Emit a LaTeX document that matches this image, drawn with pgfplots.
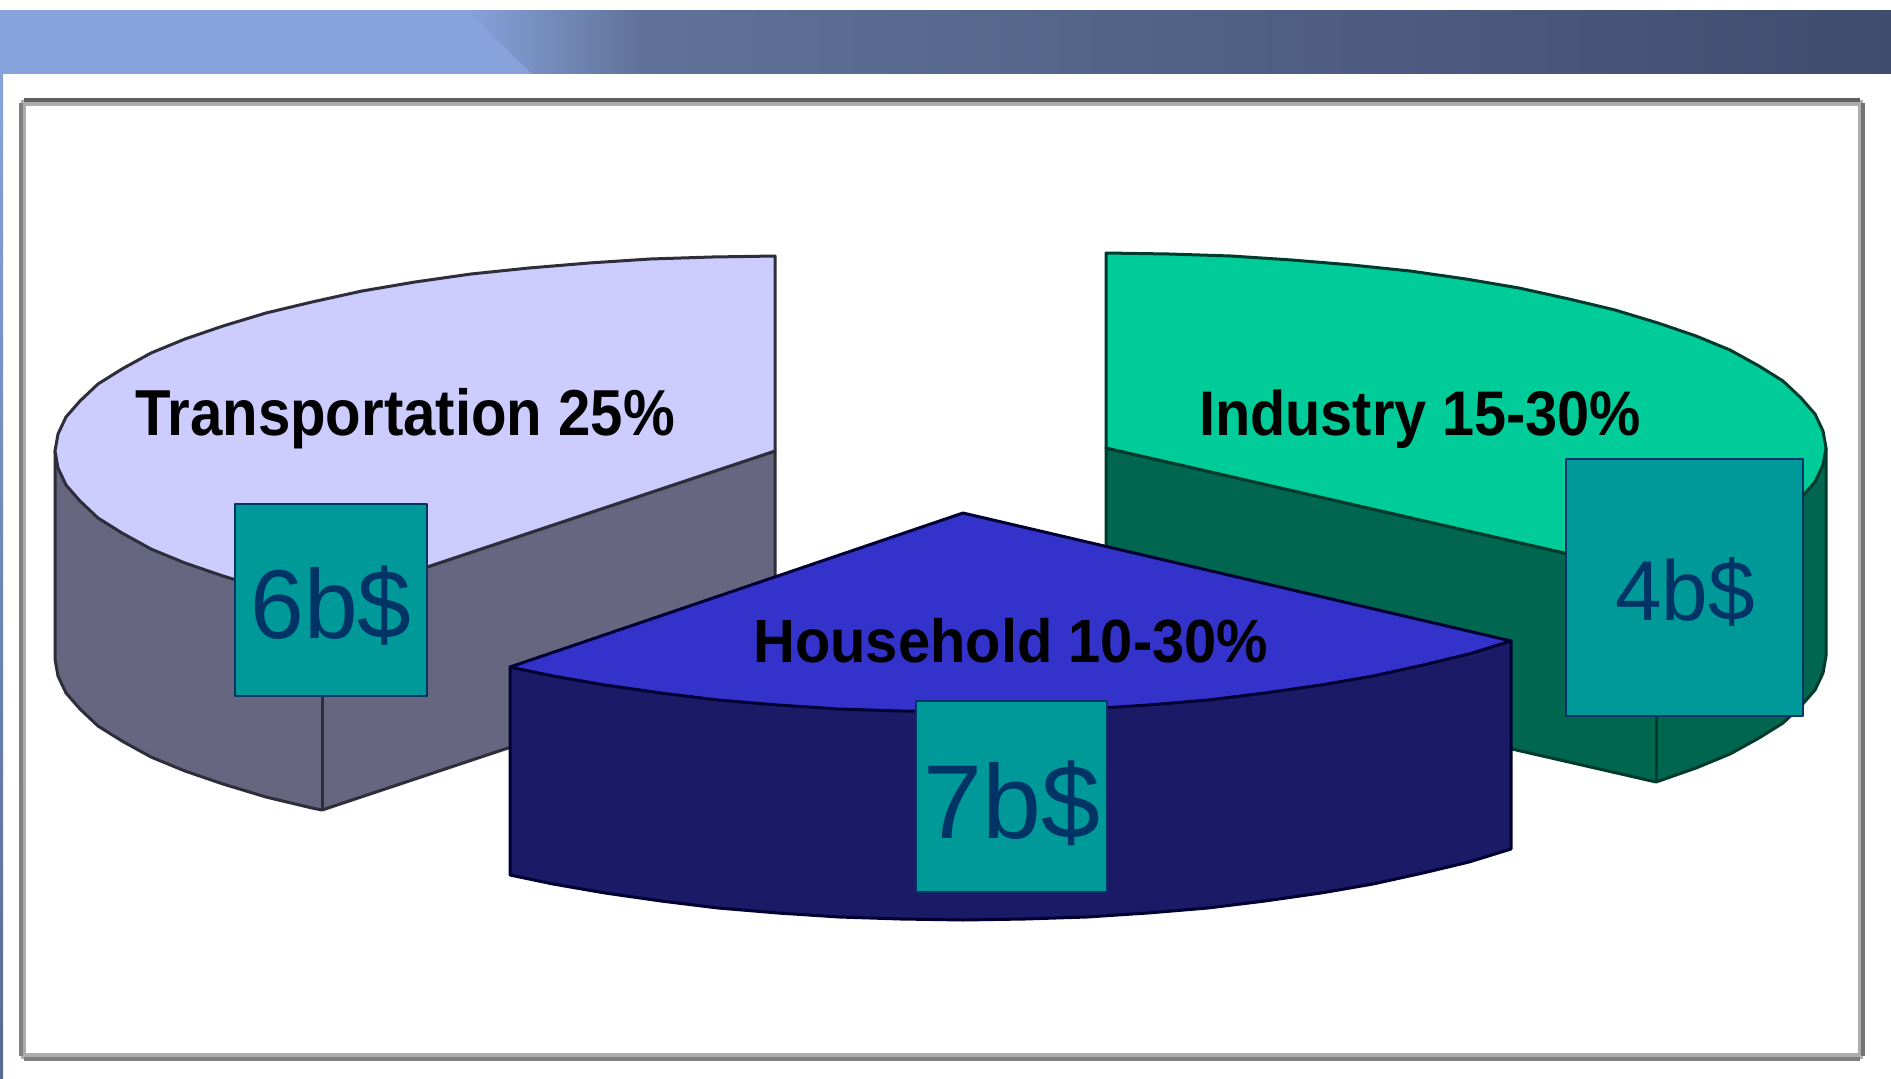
\documentclass[border=0pt]{standalone}
\usepackage{pgfplots}
\pgfplotsset{compat=1.18}
\usepackage{fontspec}
\setmainfont{Liberation Sans}
\definecolor{bandL}{HTML}{88A2DC}
\definecolor{bandA}{HTML}{607299}
\definecolor{bandB}{HTML}{3F4C6E}
\definecolor{tTop}{HTML}{CCCCFF}
\definecolor{tSide}{HTML}{666680}
\definecolor{tLine}{HTML}{2E2E3A}
\definecolor{iTop}{HTML}{00CC99}
\definecolor{iSide}{HTML}{00664F}
\definecolor{iLine}{HTML}{003A2C}
\definecolor{hTop}{HTML}{3333CC}
\definecolor{hSide}{HTML}{1A1A66}
\definecolor{hLine}{HTML}{000033}
\definecolor{box}{HTML}{009999}
\definecolor{boxText}{HTML}{003366}
\newcommand{\bigval}[2]{\fontsize{#1}{#1}\selectfont\textcolor{boxText}{#2}}
\newcommand{\lab}[3]{\scalebox{#2}[1]{\fontsize{#1}{#1}\selectfont\bfseries #3}}
\begin{document}
\begin{tikzpicture}
\begin{axis}[
  at={(0,0)}, anchor=south west,
  scale only axis, width=1891pt, height=1079pt,
  xmin=0, xmax=1891, ymin=0, ymax=1079, y dir=reverse,
  axis lines=none, no markers, every axis plot/.append style={line join=round}]
% page
\addplot[fill=white,draw=none] coordinates {(0,0)(1891,0)(1891,1079)(0,1079)} --cycle;
% top band
\addplot[draw=none,left color=bandL,right color=bandA] coordinates {(464,10)(640,10)(640,74)(530,74)} --cycle;
\addplot[draw=none,left color=bandA,right color=bandB] coordinates {(639,10)(1891,10)(1891,74)(639,74)} --cycle;
\addplot[fill=bandL,draw=none] coordinates {(0,10)(466,10)(532,74)(0,74)} --cycle;
\addplot[fill=white,draw=none] coordinates {(0,74)(1891,74)(1891,90)(0,90)} --cycle;
\addplot[fill=white,draw=none] coordinates {(0,0)(1891,0)(1891,10)(0,10)} --cycle;
% left strip
\addplot[draw=none,top color=bandL,bottom color=bandA!80!bandB] coordinates {(0,74)(3,74)(3,1079)(0,1079)} --cycle;
% frame
\addplot[draw=none,fill=black!32] coordinates {(21,100)(1863,100)(1863,1059)(21,1059)} --cycle;
\addplot[draw=none,fill=white] coordinates {(26,106)(1858,106)(1858,1053)(26,1053)} --cycle;
\addplot[draw=black!62,line width=3.5pt] coordinates {(24,100)(1860,100)};
\addplot[draw=black!55,line width=3.5pt] coordinates {(1863,103)(1863,1056)};
\addplot[draw=black!50,line width=3.5pt] coordinates {(1860,1059)(24,1059)};
\addplot[draw=black!50,line width=3.5pt] coordinates {(21,1056)(21,103)};
% Transportation side
\addplot[fill=tSide,draw=tLine,line width=3pt] coordinates {(55,451)(55,659)(58,676)(66,693)(80,709)(98,726)(122,741)(151,757)(185,771)(223,784)(266,797)(312,808)(322,810)(775,659)(775,451)(322,602)(55,451)} --cycle;
% Transportation top
\addplot[fill=tTop,draw=tLine,line width=3pt] coordinates {(775,256)(712,257)(650,259)(589,263)(529,268)(471,274)(415,282)(362,291)(312,302)(266,313)(223,326)(185,339)(151,353)(122,369)(98,384)(80,401)(66,417)(58,434)(55,451)(58,468)(66,485)(80,501)(98,518)(122,533)(151,549)(185,563)(223,576)(266,589)(312,600)(322,602)(775,451)} --cycle;
\addplot[draw=tLine,line width=3pt] coordinates {(322,602)(322,810)};
% Industry side
\addplot[fill=iSide,draw=iLine,line width=3pt] coordinates {(1106,448)(1106,656)(1656,782)(1696,768)(1730,754)(1759,738)(1783,723)(1801,706)(1815,690)(1823,673)(1826,656)(1826,448)(1656,574)} --cycle;
% Industry top
\addplot[fill=iTop,draw=iLine,line width=3pt] coordinates {(1106,253)(1169,254)(1231,256)(1292,260)(1352,265)(1410,271)(1466,279)(1519,288)(1569,299)(1615,310)(1658,323)(1696,336)(1730,350)(1759,366)(1783,381)(1801,398)(1815,414)(1823,431)(1826,448)(1823,465)(1815,482)(1801,498)(1783,515)(1759,530)(1730,546)(1696,560)(1656,574)(1106,448)} --cycle;
\addplot[draw=iLine,line width=3pt] coordinates {(1656,574)(1656,782)};
% value boxes behind household
\addplot[fill=box,draw=boxText,line width=1.6pt] coordinates {(235,504)(427,504)(427,696)(235,696)} --cycle;
\addplot[fill=box,draw=boxText,line width=1.6pt] coordinates {(1566,459)(1803,459)(1803,716)(1566,716)} --cycle;
% Household side
\addplot[fill=hSide,draw=hLine,line width=3pt] coordinates {(510,667)(510,875)(553,884)(605,893)(661,901)(718,908)(778,913)(839,917)(901,919)(963,920)(1025,919)(1087,917)(1148,913)(1208,908)(1265,901)(1321,893)(1373,884)(1423,873)(1469,862)(1511,849)(1511,641)} --cycle;
% Household top
\addplot[fill=hTop,draw=hLine,line width=3pt] coordinates {(963,513)(1511,641)(1469,654)(1423,665)(1373,676)(1321,685)(1265,693)(1208,700)(1148,705)(1087,709)(1025,711)(963,712)(901,711)(839,709)(778,705)(718,700)(661,693)(605,685)(553,676)(510,667)} --cycle;
% household box
\addplot[fill=box,draw=boxText,line width=1.6pt] coordinates {(916,701)(1107,701)(1107,892)(916,892)} --cycle;
% labels
\node[anchor=base west,inner sep=0pt] at (axis cs:135,435) {\lab{65}{0.895}{Transportation 25\%}};
\node[anchor=base west,inner sep=0pt] at (axis cs:1199,435) {\lab{63}{0.915}{Industry 15-30\%}};
\node[anchor=base west,inner sep=0pt] at (axis cs:753,662) {\lab{61}{0.95}{Household 10-30\%}};
\node[anchor=base,inner sep=0pt] at (axis cs:331,638) {\scalebox{0.985}[1]{\bigval{98}{6b\$}}};
\node[anchor=base,inner sep=0pt] at (axis cs:1685,620) {\scalebox{0.985}[1]{\bigval{85}{4b\$}}};
\node[anchor=base,inner sep=0pt] at (axis cs:1012,838) {\scalebox{1.01}[1]{\bigval{105}{7b\$}}};
\end{axis}
\end{tikzpicture}
\end{document}
